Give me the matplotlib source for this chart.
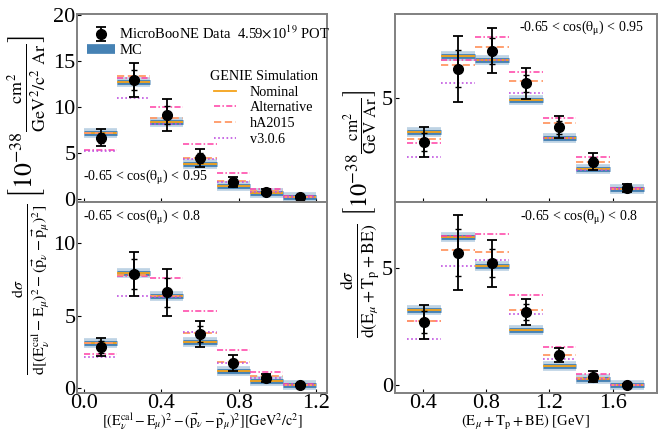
import numpy as np
import matplotlib
matplotlib.use('Agg')
import matplotlib.pyplot as plt
from matplotlib.lines import Line2D

plt.rcParams['font.family'] = ['Liberation Serif', 'DejaVu Serif']
plt.rcParams['mathtext.fontset'] = 'stix'

# bin edges
edges_left = [0.0, 0.171, 0.343, 0.514, 0.686, 0.857, 1.029, 1.2]
edges_right = [0.3, 0.514, 0.729, 0.943, 1.157, 1.371, 1.586, 1.8]

# top left: -0.65 < cos < 0.95
tl_data = [6.69, 12.91, 9.15, 4.48, 1.92, 0.83, 0.29]
tl_tot = [0.90, 1.85, 1.75, 0.94, 0.55, 0.25, 0.10]
tl_stat = [0.55, 1.10, 1.00, 0.55, 0.30, 0.15, 0.06]
tl_nom = [7.23, 12.70, 8.39, 3.83, 1.45, 0.65, 0.22]
tl_alt = [5.35, 13.13, 10.05, 6.04, 2.89, 1.12, 0.33]
tl_ha = [7.23, 13.31, 8.86, 4.48, 1.95, 0.87, 0.29]
tl_v306 = [5.24, 10.96, 8.14, 4.41, 1.84, 0.76, 0.25]

# bottom left: -0.65 < cos < 0.8
bl_data = [2.86, 7.91, 6.63, 3.72, 1.74, 0.70, 0.23]
bl_tot = [0.62, 1.51, 1.63, 0.90, 0.53, 0.28, 0.08]
bl_stat = [0.40, 1.05, 1.00, 0.55, 0.30, 0.17, 0.05]
bl_nom = [3.09, 7.95, 6.40, 3.21, 1.21, 0.51, 0.21]
bl_alt = [2.33, 7.72, 7.63, 5.30, 2.63, 1.12, 0.28]
bl_ha = [3.09, 7.79, 6.40, 3.84, 1.79, 0.81, 0.25]
bl_v306 = [2.16, 6.40, 6.28, 3.91, 1.74, 0.70, 0.22]

# top right: -0.65 < cos < 0.95
tr_data = [3.00, 6.36, 7.20, 5.69, 3.67, 2.09, 0.86]
tr_tot = [0.68, 1.53, 1.05, 0.70, 0.51, 0.38, 0.18]
tr_stat = [0.40, 0.85, 0.60, 0.40, 0.30, 0.22, 0.10]
tr_nom = [3.45, 6.96, 6.76, 4.94, 3.18, 1.76, 0.84]
tr_alt = [2.95, 6.79, 7.83, 6.21, 4.10, 2.31, 0.86]
tr_ha = [3.15, 6.54, 7.39, 5.82, 3.86, 2.09, 0.85]
tr_v306 = [2.28, 5.69, 6.79, 5.25, 3.18, 1.68, 0.83]

# bottom right: -0.65 < cos < 0.8
br_data = [2.71, 5.67, 5.22, 3.15, 1.28, 0.37, 0.03]
br_tot = [0.72, 1.60, 1.00, 0.55, 0.30, 0.24, 0.05]
br_stat = [0.45, 1.00, 0.60, 0.35, 0.20, 0.15, 0.03]
br_nom = [3.23, 6.35, 5.11, 2.38, 0.82, 0.26, 0.01]
br_alt = [2.77, 6.39, 6.49, 3.88, 1.63, 0.50, 0.03]
br_ha = [2.77, 5.78, 5.69, 3.22, 1.31, 0.31, 0.02]
br_v306 = [2.00, 5.11, 5.38, 3.06, 1.13, 0.26, 0.02]

c_mc = '#4682b4'
c_nom = '#f5a31a'
c_alt = '#ff3ea5'
c_ha = '#ff9966'
c_v306 = '#c052e0'
spine_col = '#808080'
ls_alt = (0, (4, 1.5, 1, 1.5))
ls_ha = (0, (4, 2))
ls_v306 = (0, (1, 1.5))

fig = plt.figure(figsize=(6.6, 4.32), dpi=100)
ax_tl = fig.add_axes([0.1167, 0.5335, 0.379, 0.4345])
ax_bl = fig.add_axes([0.1167, 0.0905, 0.379, 0.4430])
ax_tr = fig.add_axes([0.598, 0.5335, 0.397, 0.4345])
ax_br = fig.add_axes([0.598, 0.0905, 0.397, 0.4430])


def draw_panel(ax, edges, data, tot, stat, nom, alt, ha, v306):
    lo = edges[:-1]
    hi = edges[1:]
    centers = [(a + b) / 2 for a, b in zip(lo, hi)]
    ax.hlines(nom, lo, hi, color=c_mc, lw=7, alpha=0.35, zorder=2, capstyle='butt')
    ax.hlines(nom, lo, hi, color=c_mc, lw=3.5, zorder=3, capstyle='butt')
    ax.hlines(nom, lo, hi, color=c_nom, lw=1.3, zorder=4)
    ax.hlines(alt, lo, hi, color=c_alt, lw=1.1, linestyles=ls_alt, zorder=4)
    ax.hlines(ha, lo, hi, color=c_ha, lw=1.3, linestyles=ls_ha, zorder=4)
    ax.hlines(v306, lo, hi, color=c_v306, lw=1.2, linestyles=ls_v306, zorder=4)
    ax.errorbar(centers, data, yerr=stat, fmt='none', ecolor='k', elinewidth=1.3, capsize=2, capthick=1, zorder=5)
    eb = ax.errorbar(centers, data, yerr=tot, fmt='o', color='k', ms=7, elinewidth=1.3, capsize=3.5, capthick=1.3, zorder=6)
    for s in ax.spines.values():
        s.set_color(spine_col)
        s.set_linewidth(1.4)
    ax.tick_params(direction='in', length=3, width=0.8, labelsize=16, color='k', pad=1)
    return eb


eb = draw_panel(ax_tl, edges_left, tl_data, tl_tot, tl_stat, tl_nom, tl_alt, tl_ha, tl_v306)
draw_panel(ax_bl, edges_left, bl_data, bl_tot, bl_stat, bl_nom, bl_alt, bl_ha, bl_v306)
draw_panel(ax_tr, edges_right, tr_data, tr_tot, tr_stat, tr_nom, tr_alt, tr_ha, tr_v306)
draw_panel(ax_br, edges_right, br_data, br_tot, br_stat, br_nom, br_alt, br_ha, br_v306)

for ax in (ax_tl, ax_bl):
    ax.set_xlim(-0.036, 1.257)
    ax.set_xticks([0.0, 0.4, 0.8, 1.2])
for ax in (ax_tr, ax_br):
    ax.set_xlim(0.223, 1.878)
    ax.set_xticks([0.4, 0.8, 1.2, 1.6])
ax_tl.tick_params(labelbottom=False)
ax_tr.tick_params(labelbottom=False)
ax_bl.set_xticklabels(['0.0', '0.4', '0.8', '1.2'])

ax_tl.set_ylim(-0.24, 20.1)
ax_tl.set_yticks([0, 5, 10, 15, 20])
ax_bl.set_ylim(-0.33, 12.9)
ax_bl.set_yticks([0, 5, 10])
ax_tr.set_ylim(0.25, 8.9)
ax_tr.set_yticks([5])
ax_br.set_ylim(-0.32, 7.86)
ax_br.set_yticks([0, 5])

txt = dict(fontsize=10)
ax_tl.text(0.025, 0.08, r'-0.65 < cos($\mathrm{\theta_\mu}$) < 0.95', transform=ax_tl.transAxes, ha='left', va='bottom', **txt)
ax_bl.text(0.025, 0.965, r'-0.65 < cos($\mathrm{\theta_\mu}$) < 0.8', transform=ax_bl.transAxes, ha='left', va='top', **txt)
ax_tr.text(0.95, 0.975, r'-0.65 < cos($\mathrm{\theta_\mu}$) < 0.95', transform=ax_tr.transAxes, ha='right', va='top', **txt)
ax_br.text(0.93, 0.965, r'-0.65 < cos($\mathrm{\theta_\mu}$) < 0.8', transform=ax_br.transAxes, ha='right', va='top', **txt)

mc_handle = Line2D([], [], color=c_mc, lw=7, solid_capstyle='butt')
leg1 = ax_tl.legend([eb, mc_handle], [r'MicroBooNE Data  4.59$\times$10$^{19}$ POT', 'MC'],
                    loc='upper left', bbox_to_anchor=(0.0, 0.995), frameon=False, fontsize=10.5,
                    handlelength=1.9, handletextpad=0.3, labelspacing=0.15, borderaxespad=0.3)
ax_tl.add_artist(leg1)
gen_handles = [Line2D([], [], color=c_nom, lw=1.3),
               Line2D([], [], color=c_alt, lw=1.1, ls=ls_alt),
               Line2D([], [], color=c_ha, lw=1.3, ls=ls_ha),
               Line2D([], [], color=c_v306, lw=1.2, ls=ls_v306)]
ax_tl.legend(gen_handles, ['Nominal', 'Alternative', 'hA2015', 'v3.0.6'], title='GENIE Simulation',
             loc='upper left', bbox_to_anchor=(0.48, 0.77), frameon=False, fontsize=10.2, title_fontsize=10.2,
             handlelength=1.5, handletextpad=1.0, labelspacing=0.2)

ax_bl.set_xlabel(r'$[(\mathrm{E}_\nu^\mathrm{cal}-\mathrm{E}_\mu)^2-(\vec{\mathrm{p}}_\nu-\vec{\mathrm{p}}_\mu)^2][\mathrm{GeV}^2/\mathrm{c}^2]$',
                 fontsize=10.2, labelpad=-1)
ax_br.set_xlabel(r'$(\mathrm{E}_\mu+\mathrm{T}_\mathrm{p}+\mathrm{BE})$ [GeV]', fontsize=10.5, labelpad=-0.5)

# y labels: fraction part below the shared border, unit part above it
fig.text(0.047, 1 - 204 / 432, r'$\frac{\mathrm{d}\sigma}{\mathrm{d}[(\mathrm{E}_\nu^\mathrm{cal}-\mathrm{E}_\mu)^2-(\vec{\mathrm{p}}_\nu-\vec{\mathrm{p}}_\mu)^2]}$',
         rotation=90, ha='center', va='top', fontsize=16.5)
fig.text(0.042, 1 - 198 / 432, r'$\left[10^{-38}\frac{\mathrm{cm}^2}{\mathrm{GeV}^2/\mathrm{c}^2\ \mathrm{Ar}}\right]$',
         rotation=90, ha='center', va='bottom', fontsize=18.5)
fig.text(0.545, 1 - 223 / 432, r'$\frac{\mathrm{d}\sigma}{\mathrm{d}(\mathrm{E}_\mu+\mathrm{T}_\mathrm{p}+\mathrm{BE})}$',
         rotation=90, ha='center', va='top', fontsize=18)
fig.text(0.546, 1 - 216 / 432, r'$\left[10^{-38}\frac{\mathrm{cm}^2}{\mathrm{GeV\ Ar}}\right]$',
         rotation=90, ha='center', va='bottom', fontsize=17.5)

fig.savefig('out.png', dpi=100)
